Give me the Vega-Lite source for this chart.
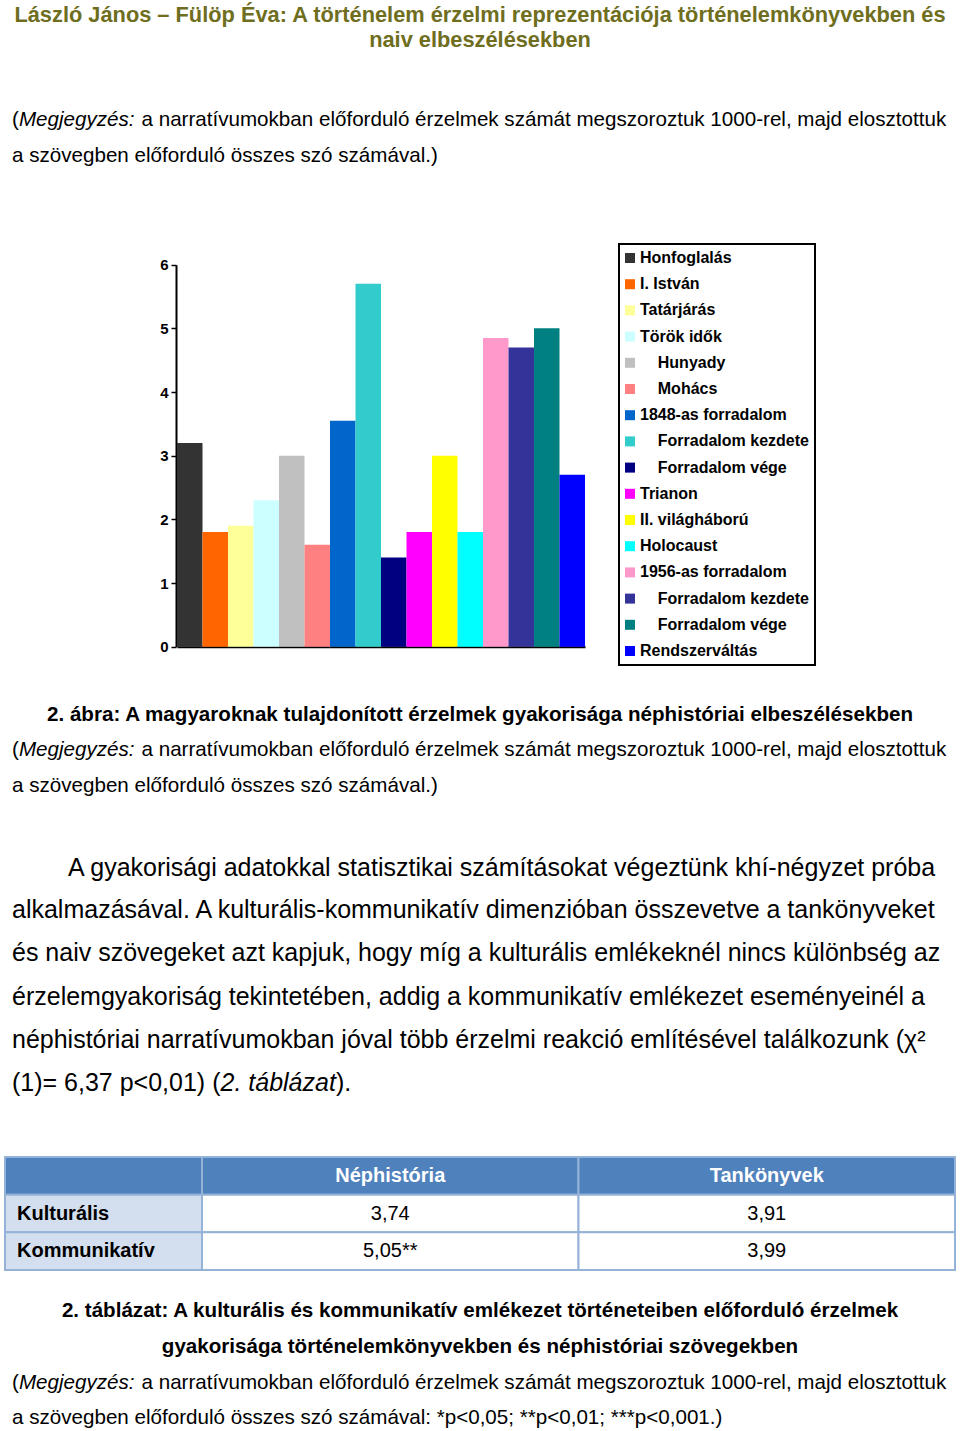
{
  "$schema": "https://vega.github.io/schema/vega-lite/v6.json",
  "width": 960,
  "height": 1431,
  "autosize": {"type": "none"},
  "padding": 0,
  "background": "white",
  "config": {
    "view": {"stroke": null},
    "font": "Liberation Sans",
    "text": {"font": "Liberation Sans", "fill": "black"}
  },
  "datasets": {
    "events": [
      {"event": "Honfoglalás", "value": 3.2},
      {"event": "I. István", "value": 1.8},
      {"event": "Tatárjárás", "value": 1.9},
      {"event": "Török idők", "value": 2.3},
      {"event": "Hunyady", "value": 3.0},
      {"event": "Mohács", "value": 1.6},
      {"event": "1848-as forradalom", "value": 3.55},
      {"event": "Forradalom kezdete (1848)", "value": 5.7},
      {"event": "Forradalom vége (1848)", "value": 1.4},
      {"event": "Trianon", "value": 1.8},
      {"event": "II. világháború", "value": 3.0},
      {"event": "Holocaust", "value": 1.8},
      {"event": "1956-as forradalom", "value": 4.85},
      {"event": "Forradalom kezdete (1956)", "value": 4.7},
      {"event": "Forradalom vége (1956)", "value": 5.0},
      {"event": "Rendszerváltás", "value": 2.7}
    ],
    "tableHead": [
      {"row": "head", "col": "rh", "cell": ""},
      {"row": "Kulturális", "col": "rh", "cell": "Kulturális"},
      {"row": "Kommunikatív", "col": "rh", "cell": "Kommunikatív"}
    ],
    "tableBody": [
      {"row": "head", "col": "Néphistória", "cell": "Néphistória"},
      {"row": "head", "col": "Tankönyvek", "cell": "Tankönyvek"},
      {"row": "Kulturális", "col": "Néphistória", "cell": "3,74"},
      {"row": "Kulturális", "col": "Tankönyvek", "cell": "3,91"},
      {"row": "Kommunikatív", "col": "Néphistória", "cell": "5,05**"},
      {"row": "Kommunikatív", "col": "Tankönyvek", "cell": "3,99"}
    ]
  },
  "resolve": {"scale": {"x": "independent", "y": "independent"}, "axis": {"x": "independent", "y": "independent"}},
  "layer": [
    {
      "data": {"name": "events"},
      "mark": {"type": "bar"},
      "encoding": {
        "x": {
          "field": "event", "type": "nominal", "sort": null,
          "scale": {
            "domain": ["Honfoglalás", "I. István", "Tatárjárás", "Török idők", "Hunyady", "Mohács", "1848-as forradalom", "Forradalom kezdete (1848)", "Forradalom vége (1848)", "Trianon", "II. világháború", "Holocaust", "1956-as forradalom", "Forradalom kezdete (1956)", "Forradalom vége (1956)", "Rendszerváltás"],
            "range": [177, 585], "paddingInner": 0, "paddingOuter": 0
          },
          "axis": {"orient": "bottom", "offset": -784.3, "labels": false, "ticks": false, "title": null, "grid": false, "domainColor": "black", "domainWidth": 2}
        },
        "y": {
          "field": "value", "type": "quantitative",
          "scale": {"domain": [0, 6], "range": [646.7, 264.7], "nice": false},
          "axis": {"orient": "left", "offset": -176, "values": [0, 1, 2, 3, 4, 5, 6], "title": null, "grid": false, "domainColor": "black", "domainWidth": 2, "tickColor": "black", "tickWidth": 1.5, "tickSize": 5, "labelFont": "Liberation Sans", "labelFontSize": 15, "labelFontWeight": "bold", "labelColor": "black", "labelPadding": 3}
        },
        "color": {
          "field": "event", "type": "nominal",
          "scale": {
            "domain": ["Honfoglalás", "I. István", "Tatárjárás", "Török idők", "Hunyady", "Mohács", "1848-as forradalom", "Forradalom kezdete (1848)", "Forradalom vége (1848)", "Trianon", "II. világháború", "Holocaust", "1956-as forradalom", "Forradalom kezdete (1956)", "Forradalom vége (1956)", "Rendszerváltás"],
            "range": ["#333333", "#FF6600", "#FFFF99", "#CCFFFF", "#C0C0C0", "#FF8080", "#0066CC", "#33CCCC", "#000080", "#FF00FF", "#FFFF00", "#00FFFF", "#FF99CC", "#333399", "#008080", "#0000FF"]
          },
          "legend": {
            "orient": "none", "legendX": 619, "legendY": 244, "title": null, "padding": 6,
            "strokeColor": "black", "fillColor": "white",
            "symbolType": "square", "symbolSize": 100, "symbolStrokeWidth": 0, "symbolOffset": -3,
            "labelFont": "Liberation Sans", "labelFontSize": 16, "labelFontWeight": "bold", "labelColor": "black",
            "rowPadding": 10.2, "labelOffset": 2, "labelLimit": 400,
            "labelExpr": "(datum.label == 'Forradalom kezdete (1848)' || datum.label == 'Forradalom kezdete (1956)') ? '\u200b\u00a0\u00a0\u00a0\u00a0Forradalom kezdete' : (datum.label == 'Forradalom vége (1848)' || datum.label == 'Forradalom vége (1956)') ? '\u200b\u00a0\u00a0\u00a0\u00a0Forradalom vége' : (datum.label == 'Hunyady' || datum.label == 'Mohács') ? '\u200b\u00a0\u00a0\u00a0\u00a0' + datum.label : datum.label",
            "encode": {"legend": {"update": {"strokeWidth": {"value": 2}}}}
          }
        }
      }
    },
    {
      "data": {"name": "tableHead"},
      "encoding": {
        "x": {"field": "col", "type": "nominal", "scale": {"domain": ["rh"], "range": [5, 202], "paddingInner": 0, "paddingOuter": 0}, "axis": null},
        "y": {"field": "row", "type": "nominal", "sort": null, "scale": {"domain": ["head", "Kulturális", "Kommunikatív"], "range": [1157, 1270], "paddingInner": 0, "paddingOuter": 0}, "axis": null}
      },
      "layer": [
        {"mark": {"type": "rect", "stroke": "#95B3D7", "strokeWidth": 2},
         "encoding": {"fill": {"condition": {"test": "datum.row === 'head'", "value": "#4F81BD"}, "value": "#D3DFEE"}}},
        {"mark": {"type": "text", "align": "left", "dx": 12, "fontSize": 20, "fontWeight": "bold", "fill": "black", "font": "Liberation Sans"},
         "encoding": {"x": {"field": "col", "type": "nominal", "bandPosition": 0}, "text": {"field": "cell"}}}
      ]
    },
    {
      "data": {"name": "tableBody"},
      "encoding": {
        "x": {"field": "col", "type": "nominal", "sort": null, "scale": {"domain": ["Néphistória", "Tankönyvek"], "range": [202, 955], "paddingInner": 0, "paddingOuter": 0}, "axis": null},
        "y": {"field": "row", "type": "nominal", "sort": null, "scale": {"domain": ["head", "Kulturális", "Kommunikatív"], "range": [1157, 1270], "paddingInner": 0, "paddingOuter": 0}, "axis": null}
      },
      "layer": [
        {"mark": {"type": "rect", "stroke": "#95B3D7", "strokeWidth": 2},
         "encoding": {"fill": {"condition": {"test": "datum.row === 'head'", "value": "#4F81BD"}, "value": "white"}}},
        {"transform": [{"filter": "datum.row === 'head'"}],
         "mark": {"type": "text", "fontSize": 20, "fontWeight": "bold", "fill": "white", "font": "Liberation Sans"},
         "encoding": {"text": {"field": "cell"}}},
        {"transform": [{"filter": "datum.row !== 'head'"}],
         "mark": {"type": "text", "fontSize": 20, "fill": "black", "font": "Liberation Sans"},
         "encoding": {"text": {"field": "cell"}}}
      ]
    },
    {"data": {"values": [{}]}, "mark": {"type": "text", "text": ["László János – Fülöp Éva: A történelem érzelmi reprezentációja történelemkönyvekben és", "naiv elbeszélésekben"], "x": 480, "y": 15, "align": "center", "baseline": "middle", "lineHeight": 25, "fontSize": 21.8, "fontWeight": "bold", "fill": "#6E6E1E"}},

    {"data": {"values": [{}]}, "mark": {"type": "text", "text": "(", "x": 12, "y": 120, "align": "left", "baseline": "middle", "fontSize": 20.6}},
    {"data": {"values": [{}]}, "mark": {"type": "text", "text": "Megjegyzés:", "x": 18.9, "y": 120, "align": "left", "baseline": "middle", "fontSize": 20.6, "fontStyle": "italic"}},
    {"data": {"values": [{}]}, "mark": {"type": "text", "text": "a narratívumokban előforduló érzelmek számát megszoroztuk 1000-rel, majd elosztottuk", "x": 141.5, "y": 120, "align": "left", "baseline": "middle", "fontSize": 20.6}},
    {"data": {"values": [{}]}, "mark": {"type": "text", "text": "a szövegben előforduló összes szó számával.)", "x": 12, "y": 156, "align": "left", "baseline": "middle", "fontSize": 20.6}},

    {"data": {"values": [{}]}, "mark": {"type": "text", "text": "2. ábra: A magyaroknak tulajdonított érzelmek gyakorisága néphistóriai elbeszélésekben", "x": 480, "y": 715, "align": "center", "baseline": "middle", "fontSize": 20.6, "fontWeight": "bold"}},

    {"data": {"values": [{}]}, "mark": {"type": "text", "text": "(", "x": 12, "y": 750, "align": "left", "baseline": "middle", "fontSize": 20.6}},
    {"data": {"values": [{}]}, "mark": {"type": "text", "text": "Megjegyzés:", "x": 18.9, "y": 750, "align": "left", "baseline": "middle", "fontSize": 20.6, "fontStyle": "italic"}},
    {"data": {"values": [{}]}, "mark": {"type": "text", "text": "a narratívumokban előforduló érzelmek számát megszoroztuk 1000-rel, majd elosztottuk", "x": 141.5, "y": 750, "align": "left", "baseline": "middle", "fontSize": 20.6}},
    {"data": {"values": [{}]}, "mark": {"type": "text", "text": "a szövegben előforduló összes szó számával.)", "x": 12, "y": 786, "align": "left", "baseline": "middle", "fontSize": 20.6}},

    {"data": {"values": [{}]}, "mark": {"type": "text", "text": "A gyakorisági adatokkal statisztikai számításokat végeztünk khí-négyzet próba", "x": 68, "y": 868, "align": "left", "baseline": "middle", "fontSize": 25}},
    {"data": {"values": [{}]}, "mark": {"type": "text", "text": ["alkalmazásával. A kulturális-kommunikatív dimenzióban összevetve a tankönyveket", "és naiv szövegeket azt kapjuk, hogy míg a kulturális emlékeknél nincs különbség az", "érzelemgyakoriság tekintetében, addig a kommunikatív emlékezet eseményeinél a", "néphistóriai narratívumokban jóval több érzelmi reakció említésével találkozunk (χ²"], "x": 12, "y": 910, "align": "left", "baseline": "middle", "lineHeight": 43.3, "fontSize": 25}},
    {"data": {"values": [{}]}, "mark": {"type": "text", "text": "(1)= 6,37 p<0,01) (", "x": 12, "y": 1083, "align": "left", "baseline": "middle", "fontSize": 25}},
    {"data": {"values": [{}]}, "mark": {"type": "text", "text": "2. táblázat", "x": 220.5, "y": 1083, "align": "left", "baseline": "middle", "fontSize": 25, "fontStyle": "italic"}},
    {"data": {"values": [{}]}, "mark": {"type": "text", "text": ").", "x": 336, "y": 1083, "align": "left", "baseline": "middle", "fontSize": 25}},

    {"data": {"values": [{}]}, "mark": {"type": "text", "text": ["2. táblázat: A kulturális és kommunikatív emlékezet történeteiben előforduló érzelmek", "gyakorisága történelemkönyvekben és néphistóriai szövegekben"], "x": 480, "y": 1311, "align": "center", "baseline": "middle", "lineHeight": 36, "fontSize": 20.6, "fontWeight": "bold"}},

    {"data": {"values": [{}]}, "mark": {"type": "text", "text": "(", "x": 12, "y": 1383, "align": "left", "baseline": "middle", "fontSize": 20.6}},
    {"data": {"values": [{}]}, "mark": {"type": "text", "text": "Megjegyzés:", "x": 18.9, "y": 1383, "align": "left", "baseline": "middle", "fontSize": 20.6, "fontStyle": "italic"}},
    {"data": {"values": [{}]}, "mark": {"type": "text", "text": "a narratívumokban előforduló érzelmek számát megszoroztuk 1000-rel, majd elosztottuk", "x": 141.5, "y": 1383, "align": "left", "baseline": "middle", "fontSize": 20.6}},
    {"data": {"values": [{}]}, "mark": {"type": "text", "text": "a szövegben előforduló összes szó számával: *p<0,05; **p<0,01; ***p<0,001.)", "x": 12, "y": 1418, "align": "left", "baseline": "middle", "fontSize": 20.6}}
  ]
}
